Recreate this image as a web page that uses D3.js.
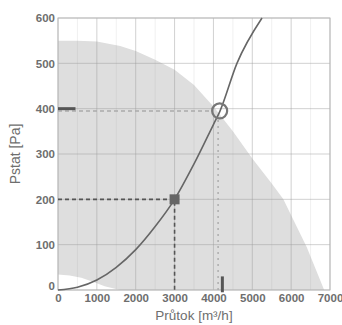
<!DOCTYPE html>
<html>
<head>
<meta charset="utf-8">
<script src="https://cdn.jsdelivr.net/npm/d3@7"></script>
<style>
  body { margin: 0; background: #fff; }
  text { font-family: "Liberation Sans", Arial, sans-serif; }
</style>
</head>
<body>
<svg id="drawing_region"></svg>
<script>
// fan envelope (upper edge) and lower cut-off, [m3/h, Pa]
const envelopeTop = [[0,550],[500,550],[1000,548],[1600,538],[2000,527],[2500,508],[3000,486],[3500,452],[4000,405],[4500,350],[5000,290],[5500,235],[5800,200],[6000,165],[6400,95],[6850,0]];
const envelopeBottom = [[1600,0],[1200,8],[900,18],[600,27],[300,32],[0,34]];
// system curve
const systemCurve = [[0,0],[500,6],[1000,22],[1500,50],[2000,89],[2500,140],[3000,200],[3500,278],[4000,365],[4160,393],[4605,500],[5250,600]];
// required point (square) and working point (circle)
const requiredPoint = [3000, 200];
const workingPoint = [4160, 395];
const axisMarks = { x: 4230, y: 400 };
const xTicks = [0,1000,2000,3000,4000,5000,6000,7000];
const yTicks = [0,100,200,300,400,500,600];
const xMinor = [500,1500,2500,3500,4500,5500,6500];

const config = {
    width: 342,
    height: 325,
    margin: {top:18, right:12, bottom:35, left:58}
};

const svg = d3.select('#drawing_region')
    .attr('width', config.width)
    .attr('height', config.height);

const inner_width = config.width - config.margin.left - config.margin.right;
const inner_height = config.height - config.margin.top - config.margin.bottom;

const chart = svg.append('g')
    .attr('transform', `translate(${config.margin.left}, ${config.margin.top})`);

const xscale = d3.scaleLinear().domain([0, 7000]).range([0, inner_width]);
const yscale = d3.scaleLinear().domain([0, 600]).range([inner_height, 0]);

const line = d3.line()
    .x(d => xscale(d[0]))
    .y(d => yscale(d[1]));

const smooth = d3.line()
    .x(d => xscale(d[0]))
    .y(d => yscale(d[1]))
    .curve(d3.curveMonotoneX);

// shaded working range
chart.append('path')
    .datum(envelopeTop.concat([[7000,0]]).concat(envelopeBottom))
    .attr('d', line)
    .attr('fill', '#dedede');

// grid
chart.append('g').selectAll('line')
    .data(xMinor)
    .join('line')
    .attr('x1', d => xscale(d)).attr('x2', d => xscale(d))
    .attr('y1', 0).attr('y2', inner_height)
    .attr('stroke', '#999').attr('stroke-opacity', 0.15);

chart.append('g').selectAll('line')
    .data(xTicks)
    .join('line')
    .attr('x1', d => xscale(d)).attr('x2', d => xscale(d))
    .attr('y1', 0).attr('y2', inner_height)
    .attr('stroke', '#999').attr('stroke-opacity', 0.45);

chart.append('g').selectAll('line')
    .data(yTicks)
    .join('line')
    .attr('x1', 0).attr('x2', inner_width)
    .attr('y1', d => yscale(d)).attr('y2', d => yscale(d))
    .attr('stroke', '#999').attr('stroke-opacity', 0.45);

chart.append('rect')
    .attr('width', inner_width).attr('height', inner_height)
    .attr('fill', 'none').attr('stroke', '#bbb');

// axes (labels only)
const xaxis = d3.axisBottom(xscale).tickValues(xTicks).tickFormat(d3.format('d')).tickSize(0).tickPadding(4);
const yaxis = d3.axisLeft(yscale).tickValues(yTicks).tickFormat(d3.format('d')).tickSize(0).tickPadding(3);

const xg = chart.append('g').attr('transform', `translate(0, ${inner_height})`).call(xaxis);
const yg = chart.append('g').call(yaxis);
[xg, yg].forEach(g => {
    g.select('.domain').remove();
    g.selectAll('text')
        .attr('fill', '#6e6e6e')
        .attr('font-size', '11.5px')
        .attr('font-weight', 'bold')
        .style('font-family', '"Liberation Sans", Arial, sans-serif');
});
yg.selectAll('text').filter(d => d === 0).attr('dy', '-0.05em');

// dashed guides for required point
chart.append('path')
    .datum([[0, requiredPoint[1]], requiredPoint, [requiredPoint[0], 0]])
    .attr('d', line)
    .attr('fill', 'none')
    .attr('stroke', '#555')
    .attr('stroke-width', 1.6)
    .attr('stroke-dasharray', '4,3');

// light guides for working point
chart.append('path')
    .datum([[0, workingPoint[1]], [workingPoint[0] - 170, workingPoint[1]]])
    .attr('d', line)
    .attr('fill', 'none')
    .attr('stroke', '#aaa')
    .attr('stroke-width', 1.4)
    .attr('stroke-dasharray', '4,3');

chart.append('path')
    .datum([[workingPoint[0] - 40, workingPoint[1] - 20], [workingPoint[0] - 40, 0]])
    .attr('d', line)
    .attr('fill', 'none')
    .attr('stroke', '#aaa')
    .attr('stroke-width', 1.4)
    .attr('stroke-dasharray', '2,4');

// thick marks on the axes
chart.append('line')
    .attr('x1', xscale(0)).attr('x2', xscale(450))
    .attr('y1', yscale(axisMarks.y)).attr('y2', yscale(axisMarks.y))
    .attr('stroke', '#555').attr('stroke-width', 3);

chart.append('line')
    .attr('x1', xscale(axisMarks.x)).attr('x2', xscale(axisMarks.x))
    .attr('y1', yscale(30)).attr('y2', yscale(-5))
    .attr('stroke', '#555').attr('stroke-width', 3);

// system curve
chart.append('path')
    .datum(systemCurve)
    .attr('d', smooth)
    .attr('fill', 'none')
    .attr('stroke', '#666')
    .attr('stroke-width', 1.6);

// markers
chart.append('rect')
    .attr('x', xscale(requiredPoint[0]) - 5)
    .attr('y', yscale(requiredPoint[1]) - 5)
    .attr('width', 10).attr('height', 10)
    .attr('fill', '#666');

chart.append('circle')
    .attr('cx', xscale(workingPoint[0]))
    .attr('cy', yscale(workingPoint[1]))
    .attr('r', 7.5)
    .attr('fill', 'none')
    .attr('stroke', '#777')
    .attr('stroke-width', 2.2);

// axis titles
svg.append('text')
    .attr('x', config.margin.left + inner_width / 2)
    .attr('y', 320)
    .attr('text-anchor', 'middle')
    .attr('fill', '#6e6e6e')
    .attr('font-size', '13.5px')
    .text('Průtok [m³/h]');

svg.append('text')
    .attr('transform', `translate(20, ${config.margin.top + inner_height / 2}) rotate(-90)`)
    .attr('text-anchor', 'middle')
    .attr('fill', '#6e6e6e')
    .attr('font-size', '14px')
    .text('Pstat [Pa]');
</script>
</body>
</html>
